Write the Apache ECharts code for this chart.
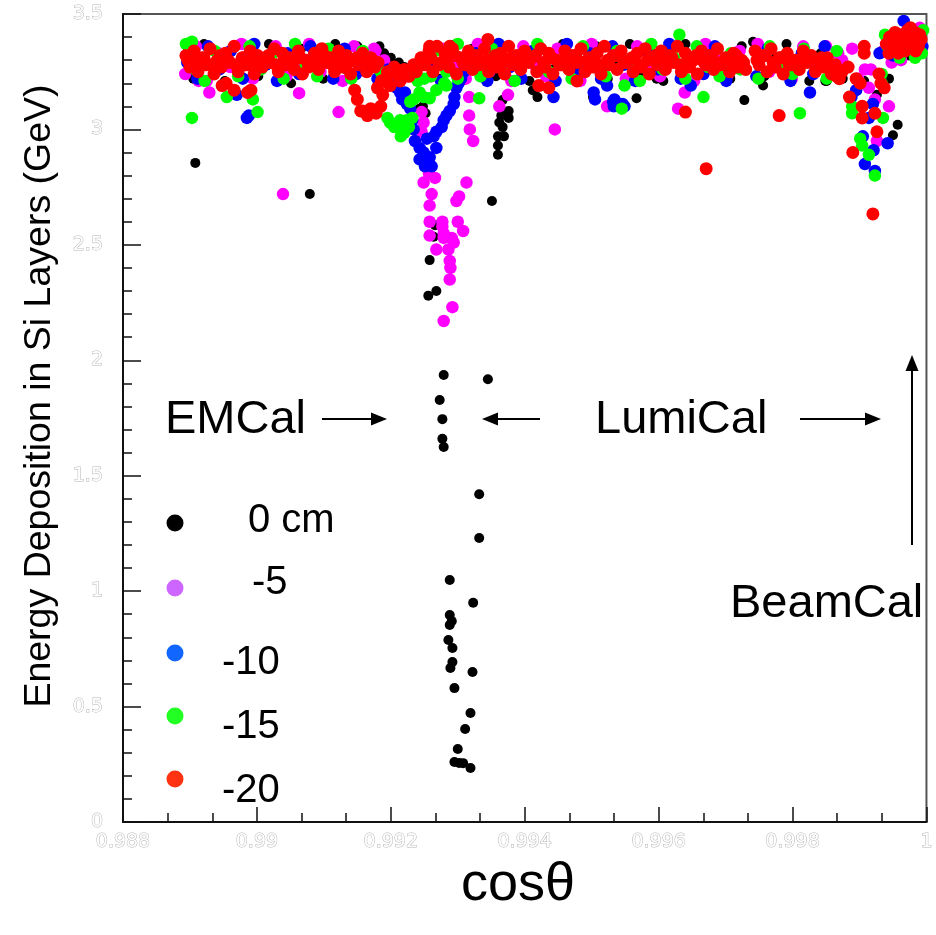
<!DOCTYPE html>
<html><head><meta charset="utf-8">
<script src="https://cdn.jsdelivr.net/npm/echarts@6/dist/echarts.min.js"></script>
<style>html,body{margin:0;padding:0;background:#fff}#c{width:936px;height:935px}</style>
</head><body><div id="c"></div>
<script>
// ---- axis settings ----
const xRange = [0.988, 1.0];
const yRange = [0, 3.5];
const xTickStep = 0.002;
const yTickStep = 0.5;
const seriesNames = ['0 cm', '-5', '-10', '-15', '-20'];

// ---- 0 cm (black) ----
const black_band = [[0.98897,3.35],[0.98905,3.22],[0.98921,3.37],[0.98938,3.28],[0.98952,3.21],[0.98967,3.36],[0.98985,3.30],[0.99002,3.23],[0.99018,3.37],[0.99035,3.27],[0.99051,3.20],[0.99066,3.35],[0.99084,3.29],[0.99099,3.22],[0.99117,3.37],[0.99133,3.26],[0.99150,3.36],[0.99168,3.30],[0.99183,3.36],[0.99272,3.22],[0.99289,3.31],[0.99306,3.21],[0.99322,3.35],[0.99340,3.28],[0.99357,3.23],[0.99373,3.36],[0.99390,3.29],[0.99407,3.21],[0.99423,3.35],[0.99441,3.26],[0.99457,3.37],[0.99474,3.23],[0.99490,3.30],[0.99507,3.36],[0.99524,3.22],[0.99540,3.28],[0.99557,3.37],[0.99574,3.25],[0.99590,3.33],[0.99607,3.21],[0.99624,3.30],[0.99640,3.37],[0.99657,3.24],[0.99674,3.34],[0.99690,3.28],[0.99707,3.22],[0.99724,3.36],[0.99741,3.38],[0.99758,3.23],[0.99775,3.31],[0.99791,3.37],[0.99808,3.26],[0.99825,3.21],[0.99842,3.33],[0.99858,3.28],[0.99875,3.22],[0.99933,3.34],[0.99954,3.33],[0.99944,3.22],[0.99907,3.21],[0.99926,3.15],[0.99849,3.21],[0.99954,3.31],[0.99974,3.32]];
const black_spike = [[0.99190,3.33],[0.99200,3.31],[0.99212,3.29],[0.99220,3.27],[0.99205,3.28],[0.99243,3.09],[0.99252,3.07],[0.99248,3.10],[0.99258,2.60],[0.99266,2.585],[0.99264,2.535],[0.99258,2.434],[0.99256,2.28],[0.99268,2.30],[0.99351,2.69],[0.99279,1.936],[0.99345,1.918],[0.99273,1.828],[0.99277,1.745],[0.99277,1.66],[0.99279,1.624],[0.99332,1.42],[0.99332,1.23],[0.99288,1.048],[0.99323,0.95],[0.99288,0.897],[0.99291,0.87],[0.99288,0.853],[0.99286,0.788],[0.99292,0.754],[0.99292,0.693],[0.99289,0.667],[0.99322,0.65],[0.99295,0.58],[0.99319,0.472],[0.99311,0.403],[0.99300,0.316],[0.99295,0.26],[0.99302,0.256],[0.99308,0.255],[0.99319,0.234]];
const black_other = [[0.98908,2.855],[0.99079,2.72],[0.99367,3.127],[0.99376,3.08],[0.99365,3.06],[0.99376,3.05],[0.99362,3.03],[0.99367,3.01],[0.99360,2.97],[0.99369,2.97],[0.99360,2.93],[0.99360,2.89],[0.99375,3.15],[0.99412,3.17],[0.99419,3.14],[0.99502,3.14],[0.99567,3.135],[0.99597,3.22],[0.99728,3.127],[0.99756,3.19],[0.99851,3.21],[0.99907,3.20],[0.99957,3.02],[0.99950,2.975]];

// ---- -5 (magenta) ----
const mag_band = [[0.98893,3.24],[0.98909,3.36],[0.98925,3.21],[0.98943,3.33],[0.98960,3.27],[0.98977,3.37],[0.98994,3.22],[0.99011,3.31],[0.99028,3.36],[0.99044,3.23],[0.99061,3.29],[0.99078,3.37],[0.99095,3.25],[0.99112,3.33],[0.99128,3.21],[0.99145,3.36],[0.99160,3.27],[0.99175,3.35],[0.99190,3.30],[0.99260,3.23],[0.99278,3.35],[0.99295,3.27],[0.99312,3.22],[0.99330,3.37],[0.99347,3.25],[0.99364,3.32],[0.99380,3.21],[0.99398,3.36],[0.99415,3.28],[0.99432,3.23],[0.99449,3.35],[0.99466,3.30],[0.99483,3.21],[0.99500,3.37],[0.99517,3.26],[0.99534,3.32],[0.99551,3.22],[0.99568,3.36],[0.99585,3.29],[0.99602,3.23],[0.99619,3.35],[0.99636,3.27],[0.99653,3.21],[0.99670,3.37],[0.99687,3.30],[0.99704,3.24],[0.99721,3.34],[0.99748,3.37],[0.99765,3.25],[0.99782,3.31],[0.99799,3.22],[0.99816,3.36],[0.99833,3.28],[0.99850,3.36],[0.99868,3.33],[0.99874,3.30],[0.99898,3.22],[0.99917,3.26],[0.99962,3.30],[0.99990,3.44],[0.99936,3.34],[0.99195,3.27],[0.99209,3.23],[0.99177,3.34]];
const mag_spike = [[0.99246,3.075],[0.99249,3.03],[0.99246,2.99],[0.99257,2.81],[0.99249,2.77],[0.99266,2.79],[0.99261,2.72],[0.99258,2.67],[0.99258,2.60],[0.99258,2.54],[0.99277,2.60],[0.99277,2.58],[0.99279,2.55],[0.99313,2.77],[0.99302,2.71],[0.99298,2.69],[0.99300,2.60],[0.99308,2.56],[0.99291,2.53],[0.99294,2.51],[0.99286,2.48],[0.99268,2.48],[0.99288,2.43],[0.99289,2.40],[0.99288,2.35],[0.99292,2.23],[0.99279,2.17],[0.99279,2.53]];
const mag_other = [[0.99317,3.14],[0.99317,3.06],[0.99318,3.00],[0.99323,2.95],[0.99445,3.00],[0.99063,3.157],[0.99122,3.075],[0.98929,3.16],[0.98913,3.21],[0.99039,2.72],[0.99362,3.10],[0.99375,3.15],[0.99523,3.10],[0.99639,3.16],[0.99629,3.09],[0.99889,3.35],[0.99908,3.26],[0.99914,3.18],[0.99944,3.10],[0.99948,3.29],[0.99926,2.95],[0.99923,3.13]];

// ---- -10 (blue) ----
const blue_band = [[0.98896,3.29],[0.98911,3.22],[0.98927,3.36],[0.98944,3.26],[0.98961,3.34],[0.98979,3.22],[0.98996,3.37],[0.99013,3.28],[0.99030,3.21],[0.99046,3.33],[0.99063,3.24],[0.99080,3.36],[0.99097,3.30],[0.99114,3.22],[0.99131,3.35],[0.99148,3.24],[0.99165,3.31],[0.99180,3.22],[0.99196,3.26],[0.99258,3.29],[0.99275,3.21],[0.99292,3.36],[0.99309,3.25],[0.99327,3.33],[0.99344,3.21],[0.99361,3.37],[0.99378,3.27],[0.99395,3.22],[0.99412,3.34],[0.99429,3.29],[0.99446,3.21],[0.99463,3.37],[0.99480,3.25],[0.99497,3.33],[0.99514,3.22],[0.99531,3.36],[0.99548,3.28],[0.99565,3.21],[0.99582,3.34],[0.99599,3.26],[0.99616,3.37],[0.99633,3.22],[0.99650,3.31],[0.99667,3.24],[0.99684,3.36],[0.99701,3.21],[0.99718,3.29],[0.99746,3.23],[0.99763,3.35],[0.99780,3.27],[0.99797,3.21],[0.99814,3.33],[0.99831,3.24],[0.99848,3.36],[0.99865,3.24],[0.99888,3.14],[0.99895,3.17],[0.99930,3.33],[0.99966,3.47],[0.99994,3.36],[0.99950,3.32]];
const blue_spike = [[0.99214,3.16],[0.99217,3.13],[0.99221,3.16],[0.99224,3.11],[0.99229,3.09],[0.99209,3.18],[0.99203,3.21],[0.99232,3.04],[0.99234,3.00],[0.99236,2.95],[0.99243,2.92],[0.99254,2.96],[0.99264,2.97],[0.99268,2.92],[0.99249,2.90],[0.99258,2.88],[0.99257,2.85],[0.99261,2.84],[0.99243,2.87],[0.99251,2.84],[0.99298,3.18],[0.99295,3.14],[0.99294,3.11],[0.99288,3.08],[0.99283,3.06],[0.99279,3.04],[0.99276,3.01],[0.99268,2.99],[0.99301,3.20],[0.99305,3.22]];
const blue_other = [[0.98988,3.06],[0.98970,3.15],[0.98985,3.05],[0.99443,3.14],[0.99503,3.16],[0.99505,3.13],[0.99532,3.12],[0.99533,3.10],[0.99549,3.10],[0.99523,3.19],[0.99648,3.19],[0.99546,3.11],[0.99534,3.13],[0.99826,3.16],[0.99908,2.85],[0.99923,2.82],[0.99942,2.94],[0.99921,2.91],[0.99914,3.05],[0.99920,3.11],[0.99905,2.97]];

// ---- -15 (green) ----
const green_band = [[0.98894,3.37],[0.98903,3.38],[0.98908,3.26],[0.98922,3.21],[0.98937,3.34],[0.98955,3.29],[0.98972,3.23],[0.98989,3.36],[0.99006,3.26],[0.99023,3.33],[0.99040,3.22],[0.99057,3.37],[0.99073,3.28],[0.99090,3.23],[0.99107,3.35],[0.99124,3.27],[0.99141,3.22],[0.99158,3.34],[0.99174,3.29],[0.99165,3.28],[0.99185,3.25],[0.99240,3.21],[0.99260,3.23],[0.99280,3.20],[0.99300,3.22],[0.99250,3.22],[0.99266,3.34],[0.99283,3.25],[0.99300,3.37],[0.99317,3.29],[0.99334,3.23],[0.99351,3.35],[0.99368,3.27],[0.99385,3.21],[0.99402,3.33],[0.99419,3.37],[0.99436,3.25],[0.99453,3.29],[0.99470,3.22],[0.99487,3.36],[0.99504,3.27],[0.99521,3.23],[0.99538,3.34],[0.99555,3.29],[0.99572,3.21],[0.99589,3.37],[0.99606,3.26],[0.99623,3.31],[0.99640,3.22],[0.99657,3.36],[0.99674,3.27],[0.99691,3.23],[0.99708,3.33],[0.99722,3.26],[0.99749,3.22],[0.99766,3.36],[0.99783,3.29],[0.99800,3.24],[0.99817,3.35],[0.99834,3.27],[0.99851,3.22],[0.99866,3.34],[0.99938,3.41],[0.99942,3.36],[0.99993,3.33],[0.99995,3.43],[0.99960,3.31],[0.99983,3.31]];
const green_spike = [[0.99199,3.03],[0.99209,3.01],[0.99220,2.985],[0.99224,3.04],[0.99232,3.05],[0.99214,3.04],[0.99205,3.01],[0.99227,3.01],[0.99195,3.05],[0.99215,2.97],[0.99234,3.13],[0.99249,3.14],[0.99258,3.135],[0.99243,3.16],[0.99229,3.12],[0.99268,3.17],[0.99283,3.19]];
const green_other = [[0.99332,3.135],[0.98903,3.05],[0.98955,3.14],[0.98994,3.13],[0.99001,3.075],[0.99545,3.09],[0.99549,3.19],[0.99667,3.14],[0.99811,3.07],[0.99889,3.10],[0.99889,3.07],[0.99901,2.96],[0.99904,2.93],[0.99914,2.89],[0.99923,2.80],[0.99935,3.05],[0.99933,3.24],[0.99933,3.20],[0.99631,3.41]];

// ---- -20 (red) ----
const red_band_upper = [[0.98894,3.32],[0.98906,3.34],[0.98918,3.31],[0.98930,3.35],[0.98941,3.30],[0.98953,3.33],[0.98966,3.36],[0.98978,3.31],[0.98990,3.34],[0.99001,3.32],[0.99014,3.30],[0.99026,3.35],[0.99038,3.33],[0.99049,3.31],[0.99062,3.34],[0.99074,3.30],[0.99086,3.33],[0.99097,3.35],[0.99110,3.31],[0.99122,3.34],[0.99134,3.32],[0.99146,3.30],[0.99158,3.33],[0.99170,3.31],[0.99181,3.29],[0.99245,3.31],[0.99257,3.34],[0.99269,3.36],[0.99281,3.33],[0.99292,3.35],[0.99304,3.31],[0.99316,3.34],[0.99328,3.32],[0.99340,3.35],[0.99352,3.30],[0.99364,3.33],[0.99376,3.36],[0.99388,3.32],[0.99400,3.34],[0.99411,3.31],[0.99424,3.35],[0.99436,3.33],[0.99448,3.30],[0.99460,3.34],[0.99471,3.32],[0.99484,3.35],[0.99496,3.31],[0.99508,3.33],[0.99519,3.36],[0.99532,3.32],[0.99544,3.34],[0.99556,3.30],[0.99568,3.33],[0.99580,3.35],[0.99592,3.31],[0.99604,3.34],[0.99616,3.32],[0.99628,3.36],[0.99640,3.33],[0.99652,3.30],[0.99664,3.34],[0.99676,3.32],[0.99688,3.35],[0.99700,3.31],[0.99712,3.33],[0.99724,3.30],[0.99744,3.34],[0.99756,3.32],[0.99768,3.35],[0.99780,3.31],[0.99792,3.33],[0.99804,3.30],[0.99816,3.34],[0.99828,3.32],[0.99840,3.29],[0.99852,3.31],[0.99864,3.28]];
const red_band_middle = [[0.98897,3.30],[0.98909,3.29],[0.98921,3.31],[0.98933,3.28],[0.98945,3.32],[0.98957,3.30],[0.98969,3.28],[0.98981,3.31],[0.98993,3.29],[0.99005,3.30],[0.99017,3.32],[0.99029,3.28],[0.99041,3.30],[0.99053,3.29],[0.99065,3.31],[0.99077,3.27],[0.99089,3.30],[0.99101,3.32],[0.99113,3.28],[0.99125,3.30],[0.99137,3.29],[0.99149,3.31],[0.99161,3.28],[0.99173,3.30],[0.99248,3.29],[0.99260,3.31],[0.99272,3.28],[0.99284,3.30],[0.99296,3.32],[0.99308,3.29],[0.99320,3.31],[0.99332,3.28],[0.99344,3.30],[0.99356,3.32],[0.99368,3.29],[0.99380,3.31],[0.99392,3.28],[0.99404,3.30],[0.99416,3.32],[0.99428,3.29],[0.99440,3.31],[0.99452,3.28],[0.99464,3.30],[0.99476,3.32],[0.99488,3.29],[0.99500,3.31],[0.99512,3.28],[0.99524,3.30],[0.99536,3.32],[0.99548,3.29],[0.99560,3.31],[0.99572,3.28],[0.99584,3.30],[0.99596,3.32],[0.99608,3.29],[0.99620,3.31],[0.99632,3.28],[0.99644,3.30],[0.99656,3.32],[0.99668,3.29],[0.99680,3.31],[0.99692,3.28],[0.99704,3.30],[0.99716,3.32],[0.99727,3.29],[0.99747,3.30],[0.99759,3.32],[0.99771,3.29],[0.99783,3.31],[0.99795,3.28],[0.99807,3.30],[0.99819,3.32],[0.99831,3.29],[0.99843,3.31],[0.99855,3.27],[0.99867,3.26]];
const red_band_lower = [[0.98900,3.27],[0.98912,3.25],[0.98924,3.28],[0.98936,3.24],[0.98947,3.27],[0.98959,3.29],[0.98972,3.25],[0.98984,3.28],[0.98996,3.24],[0.99008,3.27],[0.99020,3.29],[0.99032,3.25],[0.99044,3.28],[0.99056,3.26],[0.99068,3.24],[0.99080,3.28],[0.99092,3.26],[0.99104,3.29],[0.99116,3.25],[0.99128,3.27],[0.99140,3.24],[0.99152,3.28],[0.99164,3.25],[0.99176,3.27],[0.99251,3.28],[0.99263,3.25],[0.99275,3.29],[0.99287,3.27],[0.99298,3.24],[0.99310,3.28],[0.99322,3.26],[0.99334,3.29],[0.99346,3.25],[0.99358,3.27],[0.99370,3.24],[0.99382,3.28],[0.99394,3.26],[0.99406,3.29],[0.99418,3.25],[0.99430,3.27],[0.99442,3.24],[0.99454,3.28],[0.99466,3.26],[0.99478,3.29],[0.99490,3.25],[0.99502,3.27],[0.99514,3.24],[0.99526,3.28],[0.99538,3.26],[0.99550,3.29],[0.99562,3.25],[0.99574,3.27],[0.99586,3.24],[0.99598,3.28],[0.99610,3.26],[0.99622,3.29],[0.99634,3.25],[0.99646,3.27],[0.99658,3.24],[0.99670,3.28],[0.99682,3.26],[0.99694,3.29],[0.99706,3.25],[0.99718,3.27],[0.99730,3.26],[0.99750,3.28],[0.99762,3.25],[0.99774,3.27],[0.99786,3.24],[0.99798,3.28],[0.99810,3.26],[0.99822,3.29],[0.99834,3.25],[0.99846,3.27],[0.99858,3.24],[0.99870,3.22],[0.99421,3.19],[0.99436,3.18],[0.99478,3.21]];
const red_dip = [[0.99155,3.08],[0.99165,3.06],[0.99170,3.09],[0.99178,3.07],[0.99185,3.10],[0.99146,3.17],[0.99150,3.13],[0.99158,3.08],[0.98954,3.20],[0.98966,3.17],[0.98986,3.16],[0.98948,3.19],[0.98991,3.17],[0.99192,3.22],[0.99199,3.19],[0.99207,3.24],[0.99214,3.21],[0.99220,3.26],[0.99227,3.23],[0.99234,3.28],[0.99205,3.27],[0.99195,3.25],[0.99186,3.21],[0.99238,3.25],[0.99180,3.18],[0.99188,3.15],[0.99258,3.36],[0.99288,3.36]];
const red_other = [[0.99345,3.39],[0.99671,2.83],[0.99780,3.06],[0.99640,3.075],[0.99920,2.634],[0.99890,2.90],[0.99885,3.14],[0.99904,3.05],[0.99904,3.10],[0.99926,2.99],[0.99883,3.27],[0.99895,3.22],[0.99901,3.20],[0.99907,3.33],[0.99907,3.36],[0.99929,3.24],[0.99932,3.20],[0.99937,3.18],[0.99923,3.07],[0.99874,3.25],[0.99866,3.23]];
const red_corner = [[0.99940,3.37],[0.99945,3.40],[0.99948,3.35],[0.99953,3.42],[0.99955,3.38],[0.99960,3.36],[0.99962,3.41],[0.99966,3.39],[0.99968,3.34],[0.99972,3.43],[0.99975,3.37],[0.99978,3.40],[0.99980,3.35],[0.99983,3.42],[0.99986,3.38],[0.99988,3.36],[0.99990,3.41],[0.99992,3.39],[0.99944,3.33],[0.99958,3.33],[0.99970,3.37],[0.99984,3.34],[0.99950,3.39],[0.99976,3.44]];

const seriesData = [
  black_band.concat(black_spike, black_other),
  mag_band.concat(mag_spike, mag_other),
  blue_band.concat(blue_spike, blue_other),
  green_band.concat(green_spike, green_other),
  red_band_lower.concat(red_band_middle, red_band_upper, red_dip, red_other, red_corner)
];
const pointColors = ['#000000', '#ff00ff', '#0000ff', '#00ff00', '#ff0000'];
const legendColors = ['#000000', '#cc66ff', '#1166ff', '#22ff22', '#ff3311'];
const pointSizes = [10, 12.5, 12.5, 12.5, 13];

const chart = echarts.init(document.getElementById('c'), null, {renderer: 'canvas'});

const tickLabelStyle = {
  color: '#ffffff', textBorderColor: '#b5b5b5', textBorderWidth: 1,
  fontFamily: 'DejaVu Sans', fontSize: 19
};

// legend drawn as graphic entries
const legendLayout = [
  {dot: [175, 523], text: [248, 521]},
  {dot: [175, 588], text: [252, 583]},
  {dot: [175, 653], text: [222, 663]},
  {dot: [175, 716], text: [222, 727]},
  {dot: [175, 779], text: [222, 791]}
];
const legendGraphics = [];
legendLayout.forEach((l, i) => {
  legendGraphics.push({type: 'circle', shape: {cx: l.dot[0], cy: l.dot[1], r: 8.5}, style: {fill: legendColors[i]}, z: 100});
  legendGraphics.push({type: 'text', x: l.text[0], y: l.text[1], style: {text: seriesNames[i], fill: '#000', font: '40px "Liberation Sans", Arial, sans-serif', textVerticalAlign: 'middle'}, z: 100});
});

function hArrow(x1, x2, y) {
  const dir = x2 > x1 ? 1 : -1;
  const hb = x2 - dir * 16;
  return [
    {type: 'line', shape: {x1: x1, y1: y, x2: hb, y2: y}, style: {stroke: '#000', lineWidth: 2}, z: 100},
    {type: 'polygon', shape: {points: [[x2, y], [hb, y - 6.5], [hb, y + 6.5]]}, style: {fill: '#000'}, z: 100}
  ];
}
function vArrow(x, y1, y2) {
  const hb = y2 + 16;
  return [
    {type: 'line', shape: {x1: x, y1: y1, x2: x, y2: hb}, style: {stroke: '#000', lineWidth: 2}, z: 100},
    {type: 'polygon', shape: {points: [[x, y2], [x - 6.5, hb], [x + 6.5, hb]]}, style: {fill: '#000'}, z: 100}
  ];
}
const bigFont = '47px "Liberation Sans", Arial, sans-serif';
const annotations = [
  {type: 'text', x: 165, y: 420, style: {text: 'EMCal', fill: '#000', font: bigFont, textVerticalAlign: 'middle'}, z: 100},
  {type: 'text', x: 595, y: 420, style: {text: 'LumiCal', fill: '#000', font: bigFont, textVerticalAlign: 'middle'}, z: 100},
  {type: 'text', x: 730, y: 604, style: {text: 'BeamCal', fill: '#000', font: bigFont, textVerticalAlign: 'middle'}, z: 100},
  {type: 'text', x: 518, y: 885, style: {text: 'cosθ', fill: '#000', font: '54px "Liberation Sans", Arial, sans-serif', textAlign: 'center', textVerticalAlign: 'middle'}, z: 100},
  {type: 'text', x: 40, y: 396, rotation: Math.PI / 2, style: {text: 'Energy Deposition in Si Layers (GeV)', fill: '#000', font: '37.5px "Liberation Sans", Arial, sans-serif', textAlign: 'center', textVerticalAlign: 'middle'}, z: 100}
].concat(hArrow(322, 387, 419), hArrow(540, 482, 419), hArrow(800, 881, 419), vArrow(912, 545, 355));

chart.setOption({
  animation: false,
  backgroundColor: '#ffffff',
  grid: {left: 123, right: 3, top: 14, bottom: 113, show: true, borderColor: '#555', borderWidth: 2, backgroundColor: 'transparent'},
  xAxis: {
    type: 'value', min: xRange[0], max: xRange[1], interval: xTickStep,
    axisLine: {show: true, onZero: false, lineStyle: {color: '#111', width: 2}},
    axisTick: {show: true, inside: true, length: 15, lineStyle: {color: '#111', width: 1.5}},
    minorTick: {show: true, splitNumber: 3, length: 9, lineStyle: {color: '#111', width: 1.5}},
    splitLine: {show: false},
    axisLabel: Object.assign({margin: 11, formatter: v => parseFloat(v.toFixed(3)).toString()}, tickLabelStyle)
  },
  yAxis: {
    type: 'value', min: yRange[0], max: yRange[1], interval: yTickStep,
    axisLine: {show: true, onZero: false, lineStyle: {color: '#111', width: 2}},
    axisTick: {show: true, inside: true, length: 18, lineStyle: {color: '#111', width: 1.5}},
    minorTick: {show: true, splitNumber: 5, length: 9, lineStyle: {color: '#111', width: 1.5}},
    splitLine: {show: false},
    axisLabel: Object.assign({margin: 20, formatter: v => parseFloat(v.toFixed(1)).toString()}, tickLabelStyle)
  },
  series: seriesData.map((d, i) => ({
    name: seriesNames[i], type: 'scatter', data: d,
    symbol: 'circle', symbolSize: pointSizes[i],
    itemStyle: {color: pointColors[i], opacity: 1},
    emphasis: {disabled: true}, z: 2 + i
  })),
  graphic: legendGraphics.concat(annotations)
});
</script></body></html>
